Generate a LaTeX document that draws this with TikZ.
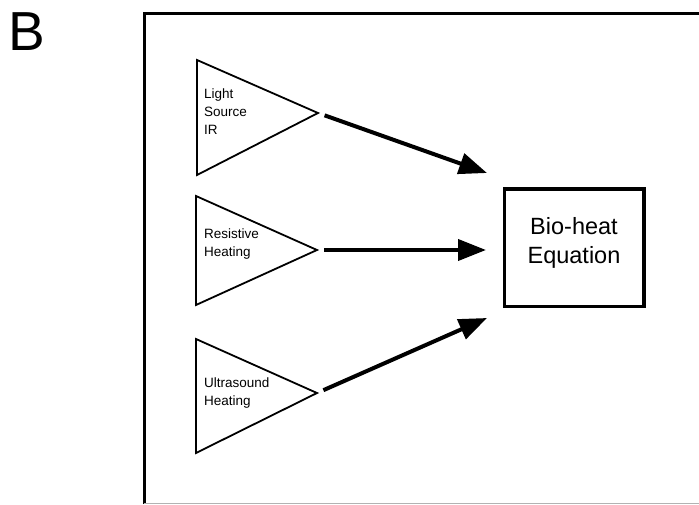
\documentclass[tikz,border=0pt]{standalone}
\usepackage{fontspec}
\setmainfont{Liberation Sans}
\usepackage{tikz}
\usetikzlibrary{arrows.meta}

\begin{document}
\begin{tikzpicture}[x=1pt, y=-1pt,
  src/.style={draw, line width=1.8pt},
  lbl/.style={font=\fontsize{13.5}{18}\selectfont, align=left, anchor=west, inner sep=0pt},
  eqbox/.style={draw, line width=3.5pt, minimum width=139.5pt, minimum height=117.5pt, align=center, text depth=14pt, font=\fontsize{23.5}{29}\selectfont},
  flow/.style={line width=4pt, -{Triangle[length=28pt,width=21pt]}, shorten <=7pt}]

\useasboundingbox (0,0) rectangle (699,504);

% Panel letter
\node[font=\fontsize{55}{60}\selectfont, anchor=base west, inner sep=0pt] (panel) at (8,50) {B};

% Frame
\draw[line width=3pt] (144,504) -- (144,13) -- (699,13);
\draw[black!30, line width=1pt] (144,503.5) -- (699,503.5);

% Heat sources
\coordinate (s1) at (318,113);
\coordinate (s2) at (317,250);
\coordinate (s3) at (317,393);
\draw[src] (197,60) -- (s1) -- (197,175) -- cycle;
\draw[src] (196,196) -- (s2) -- (196,305) -- cycle;
\draw[src] (196,339) -- (s3) -- (196,453) -- cycle;
\node[lbl] (light) at (204,112) {Light\\Source\\IR};
\node[lbl] (resist) at (204,244) {Resistive\\Heating};
\node[lbl] (ultra) at (204,393) {Ultrasound\\Heating};

% Main node
\node[eqbox] (eq) at (574,247.5) {Bio-heat\\Equation};

% Arrow tips
\coordinate (t1) at (487,173);
\coordinate (t2) at (486,250);
\coordinate (t3) at (487,318);

% Connecting arrows
\draw[flow] (s1) -- (t1);
\draw[flow] (s2) -- (t2);
\draw[flow] (s3) -- (t3);

\end{tikzpicture}
\end{document}
